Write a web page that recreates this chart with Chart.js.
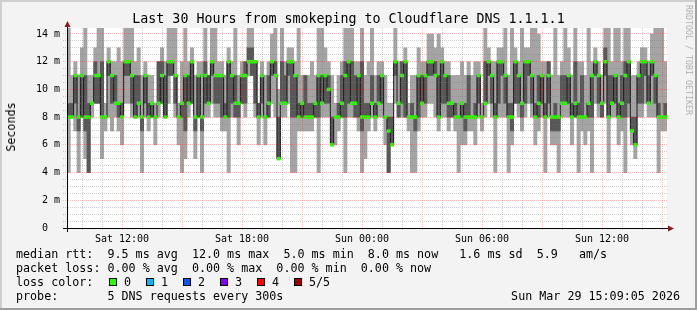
<!DOCTYPE html>
<html>
<head>
<meta charset="utf-8">
<script src="https://cdn.jsdelivr.net/npm/chart.js@4.4.1/dist/chart.umd.min.js"></script>
<style>
body { margin: 0; background: #f3f3f3; }
#wrap { position: relative; width: 697px; height: 310px; overflow: hidden; }
#smokeChart { position: absolute; left: 0; top: 0; }
.t { position: absolute; font-family: "DejaVu Sans Mono", monospace; white-space: pre; color: #000; }
.sq { position: absolute; width: 8px; height: 8px; border: 1px solid #000; box-sizing: border-box; }
</style>
</head>
<body>
<div id="wrap">
  <canvas id="smokeChart" width="697" height="310"></canvas>
  <div class="t" style="left:0;top:11px;width:697px;text-align:center;font-size:13.3px;line-height:16px;">Last 30 Hours from smokeping to Cloudflare DNS 1.1.1.1</div>
  <div class="t" style="left:11px;top:127px;font-size:11.7px;line-height:14px;transform:translate(-50%,-50%) rotate(-90deg);">Seconds</div>
  <div class="t" style="left:689px;top:60px;font-size:8.3px;line-height:10px;color:#b0b0b0;transform:translate(-50%,-50%) rotate(90deg);">RRDTOOL / TOBI OETIKER</div>
  <div class="t" style="left:16px;top:247px;font-size:11.7px;line-height:14px;">median rtt:  9.5 ms avg  12.0 ms max  5.0 ms min  8.0 ms now   1.6 ms sd  5.9   am/s</div>
  <div class="t" style="left:16px;top:261px;font-size:11.7px;line-height:14px;">packet loss: 0.00 % avg  0.00 % max  0.00 % min  0.00 % now</div>
  <div class="t" id="lossRow" style="left:16px;top:275px;font-size:11.7px;line-height:14px;">loss color:</div>
  <div class="t" style="left:16px;top:289px;font-size:11.7px;line-height:14px;">probe:       5 DNS requests every 300s</div>
  <div class="t" style="right:17px;top:289px;font-size:11.7px;line-height:14px;">Sun Mar 29 15:09:05 2026</div>
</div>
<script>
// time axis: hours counted from Sat 00:00, one column = 10 minutes
var startHour = 9.25;
var endHour = 39.25;
var stepHours = 1 / 6;

var xTickHours = [12, 18, 24, 30, 36];
var xTickLabels = ['Sat 12:00', 'Sat 18:00', 'Sun 00:00', 'Sun 06:00', 'Sun 12:00'];

var lossLabels = ['0', '1', '2', '3', '4', '5/5'];
var lossColors = ['#26ff00', '#00b8ff', '#0059ff', '#7e00ff', '#ff0000', '#a00000'];

// the five sorted pings of each column (ms)
var pMin = [
  4,8,7,4,8,5,4,8,9,9, 5,7,8,7,8,7,6,9,9,8, 8,8,4,8,7,8,6,8,9,8, 9,11,8,6,4,5,8,9,5,8,
  4,8,8,9,8,8,7,7,4,8, 8,6,9,8,11,11,8,6,8,6, 8,9,8,5,8,8,9,4,4,7, 7,7,7,7,8,4,8,8,8,6,
  6,7,8,4,8,8,8,7,4,5, 7,8,7,8,8,6,4,6,9,8, 8,8,7,4,4,7,8,8,9,9, 8,7,8,8,7,8,7,4,6,6,
  7,7,6,8,7,8,9,8,4,8, 8,8,4,6,9,8,7,8,9,8, 6,7,8,4,8,6,6,4,8,8, 8,6,8,4,7,6,7,4,9,8,
  8,9,4,8,8,6,7,4,8,6, 5,8,8,9,8,8,8,4,7,7
];
var pLo = [
  8,8,9,7,8,7,4,9,9,9, 8,8,11,9,9,8,8,11,11,9, 8,9,7,9,8,8,8,9,9,8, 11,11,9,8,8,7,9,9,7,8,
  7,9,9,11,9,9,8,8,8,9, 8,8,9,9,12,11,9,8,9,8, 8,11,11,5,9,9,11,8,8,8, 8,8,8,8,8,8,9,9,9,6,
  8,8,8,8,9,9,8,8,7,8, 8,9,8,9,9,8,4,6,11,8, 9,8,8,8,7,8,9,9,11,11, 11,8,9,9,8,8,8,8,8,7,
  8,8,8,9,8,9,11,9,8,9, 11,9,8,7,9,9,8,9,11,9, 8,8,9,8,9,7,7,7,9,9, 9,8,8,8,8,8,8,8,11,9,
  8,11,8,9,9,8,8,8,9,7, 6,9,9,11,9,11,9,8,8,8
];
var pMed = [
  8,8,11,8,11,8,8,9,11,11, 8,8,12,11,9,9,8,12,12,11, 8,9,8,11,8,9,8,9,11,8, 12,12,11,8,9,11,9,12,8,11,
  8,11,9,12,11,11,11,8,12,11, 9,9,11,11,12,12,12,8,11,8, 9,12,11,5,9,9,12,12,11,8, 9,8,8,8,9,11,9,11,10,6,
  8,8,9,11,12,9,9,11,8,8, 8,9,8,9,11,8,7,6,12,9, 11,12,8,8,8,11,9,11,12,12, 11,8,12,11,9,9,8,8,9,8,
  8,8,8,11,8,9,12,11,8,12, 12,11,8,8,12,11,9,12,12,11, 8,9,11,8,11,8,8,8,9,9, 11,8,9,8,8,8,9,11,12,11,
  9,12,8,9,11,8,9,11,12,7, 6,11,12,12,9,12,11,8,8,8
];
var pHi = [
  9,9,11,8,11,11,9,9,12,11, 12,8,12,11,11,9,9,12,12,11, 11,11,8,11,9,9,8,12,12,11, 12,12,11,8,9,11,11,12,8,11,
  8,12,11,12,11,11,11,9,12,11, 11,9,11,12,13,13,12,9,11,8, 11,12,12,8,12,11,12,12,11,9, 9,11,9,9,9,11,11,11,11,8,
  8,9,11,12,12,12,11,11,12,9, 9,11,9,11,11,8,8,8,12,9, 12,12,8,9,8,11,11,11,12,12, 12,11,12,11,11,9,9,8,9,9,
  11,8,9,11,8,12,12,11,9,12, 12,11,9,9,12,11,9,12,12,11, 9,11,11,9,12,8,9,8,11,11, 11,9,12,9,11,8,9,11,12,11,
  9,13,11,11,11,9,11,12,12,8, 8,11,12,12,11,12,11,9,8,9
];
var pMax = [
  15,11,12,11,13,15,11,11,13,15, 15,9,13,12,12,13,12,15,15,15, 12,13,11,12,11,11,9,12,13,12, 15,15,15,9,12,15,12,13,11,12,
  12,15,11,15,15,12,12,11,13,12, 15,11,12,12,15,15,12,9,12,11, 12,14,15,10,15,12,13,13,12,15, 11,11,11,12,11,15,15,13,12,11,
  9,11,12,15,15,15,12,12,15,11, 12,15,11,12,12,11,9,9,15,12, 12,13,9,11,11,13,12,12,14,14, 13,14,13,12,12,11,11,11,12,11,
  12,11,12,12,9,15,13,12,12,13, 13,15,11,15,13,12,15,13,13,15, 15,14,12,12,12,11,15,11,12,15, 13,11,15,12,12,11,15,12,13,12,
  11,15,15,12,15,15,12,15,15,11, 11,12,13,13,12,14,15,15,15,12
];

var yTop = 14.43;
var MAJOR = 'rgba(255, 0, 0, 0.24)';
var MINOR = 'rgba(120, 120, 120, 0.38)';

function colX(i) { return startHour + (i + 0.5) * stepHours; }

function band(lo, hi) {
  return lo.map(function (v, i) { return { x: colX(i), y: [v, hi[i]] }; });
}

var medTicks = pMed.map(function (m, i) { return { x: colX(i), y: [m - 0.1, m + 0.1] }; });
var medLine = pMed.map(function (m, i) { return { x: colX(i), y: m }; });

var yTicks = [];
for (var v = 0; v <= 14; v += 0.5) yTicks.push(v);
var xTicks = [];
for (var h = 10; h <= 39; h++) xTicks.push(h);

var frame = {
  id: 'frame',
  beforeDraw: function (chart) {
    var c = chart.ctx, a = chart.chartArea;
    c.save();
    c.fillStyle = '#f3f3f3';
    c.fillRect(0, 0, 697, 310);
    c.fillStyle = '#fff';
    c.fillRect(a.left, a.top, a.right - a.left, a.bottom - a.top);
    c.fillStyle = '#cfcfcf';
    c.fillRect(0, 0, 697, 2);
    c.fillRect(0, 0, 2, 310);
    c.fillStyle = '#9e9e9e';
    c.fillRect(0, 308, 697, 2);
    c.fillRect(695, 0, 2, 310);
    c.restore();
  },
  afterDraw: function (chart) {
    var c = chart.ctx, a = chart.chartArea;
    c.save();
    c.strokeStyle = '#000';
    c.lineWidth = 1;
    c.beginPath();
    c.moveTo(63, a.bottom + 0.5);
    c.lineTo(a.right + 2, a.bottom + 0.5);
    c.moveTo(a.left + 0.5, a.bottom + 4);
    c.lineTo(a.left + 0.5, a.top - 2);
    c.stroke();
    c.fillStyle = '#8b1a1a';
    c.beginPath();
    c.moveTo(a.left - 2.5, a.top - 1);
    c.lineTo(a.left + 3.5, a.top - 1);
    c.lineTo(a.left + 0.5, a.top - 7);
    c.closePath();
    c.fill();
    c.beginPath();
    c.moveTo(a.right + 1, a.bottom - 2.5);
    c.lineTo(a.right + 1, a.bottom + 3.5);
    c.lineTo(a.right + 7, a.bottom + 0.5);
    c.closePath();
    c.fill();
    c.restore();
  }
};

window.onload = function () {
  var wrap = document.getElementById('wrap');
  lossLabels.forEach(function (lab, i) {
    var sq = document.createElement('div');
    sq.className = 'sq';
    sq.style.left = (109 + 37 * i) + 'px';
    sq.style.top = '278px';
    sq.style.background = lossColors[i];
    wrap.appendChild(sq);
    var t = document.createElement('div');
    t.className = 't';
    t.style.cssText = 'left:' + (124 + 37 * i) + 'px;top:275px;font-size:11.7px;line-height:14px;';
    t.textContent = lab;
    wrap.appendChild(t);
  });

  var ctx = document.getElementById('smokeChart').getContext('2d');
  var chart = new Chart(ctx, {
    type: 'bar',
    data: {
      datasets: [{
        type: 'bar',
        label: 'median',
        data: medTicks,
        backgroundColor: lossColors[0],
        grouped: false,
        order: 0
      }, {
        type: 'line',
        label: 'median step',
        data: medLine,
        borderColor: '#1c1c1c',
        borderWidth: 1,
        pointRadius: 0,
        stepped: 'middle',
        order: 1
      }, {
        type: 'bar',
        label: 'inner smoke',
        data: band(pLo, pHi),
        backgroundColor: '#585858',
        grouped: false,
        order: 2
      }, {
        type: 'bar',
        label: 'outer smoke',
        data: band(pMin, pMax),
        backgroundColor: '#a4a4a4',
        grouped: false,
        order: 3
      }]
    },
    options: {
      responsive: false,
      animation: false,
      events: [],
      layout: { padding: { top: 28, right: 30, left: 0, bottom: 0 } },
      datasets: { bar: { barPercentage: 1, categoryPercentage: 1, borderWidth: 0 } },
      plugins: { legend: { display: false }, tooltip: { enabled: false }, title: { display: false } },
      scales: {
        x: {
          type: 'linear',
          min: startHour,
          max: endHour,
          offset: false,
          afterBuildTicks: function (axis) { axis.ticks = xTicks.map(function (v) { return { value: v }; }); },
          afterFit: function (axis) { axis.height = 82; },
          grid: {
            z: 1,
            offset: false,
            color: function (c) { return c.tick && c.tick.value % 3 === 0 ? MAJOR : MINOR; },
            tickColor: function (c) { return c.tick && c.tick.value % 3 === 0 ? MAJOR : MINOR; },
            tickLength: 3,
            tickBorderDash: [1, 1]
          },
          border: { z: 1, color: '#000', dash: [1, 1] },
          ticks: {
            autoSkip: false,
            maxRotation: 0,
            padding: 2,
            color: '#000',
            font: { family: 'DejaVu Sans Mono', size: 10 },
            callback: function (value) {
              var i = xTickHours.indexOf(value);
              return i >= 0 ? xTickLabels[i] : '';
            }
          }
        },
        y: {
          min: 0,
          max: yTop,
          afterBuildTicks: function (axis) { axis.ticks = yTicks.map(function (v) { return { value: v }; }); },
          afterFit: function (axis) { axis.width = 67; },
          grid: {
            z: 1,
            color: function (c) { return c.tick && c.tick.value % 2 === 0 ? MAJOR : MINOR; },
            tickColor: function (c) { return c.tick && c.tick.value % 2 === 0 ? MAJOR : MINOR; },
            tickLength: 4,
            tickBorderDash: [1, 1]
          },
          border: { z: 1, color: '#000', dash: [1, 1] },
          ticks: {
            autoSkip: false,
            padding: 3,
            color: '#000',
            font: { family: 'DejaVu Sans Mono', size: 10 },
            callback: function (value) {
              if (value % 2 !== 0) return '';
              return value === 0 ? '0  ' : value + ' m';
            }
          }
        }
      }
    },
    plugins: [frame]
  });
};
</script>
</body>
</html>
